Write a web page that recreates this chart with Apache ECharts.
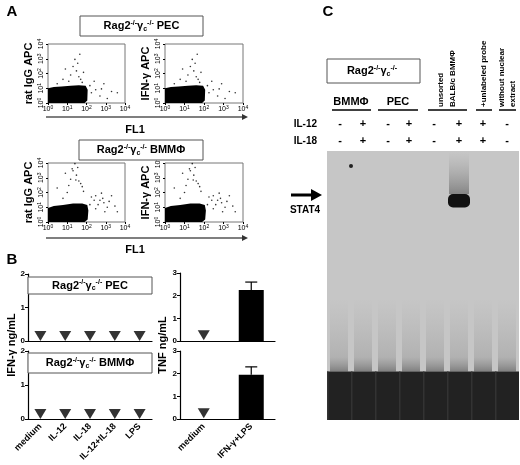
<!DOCTYPE html>
<html>
<head>
<meta charset="utf-8">
<script src="https://cdn.jsdelivr.net/npm/echarts@6/dist/echarts.min.js"></script>
<style>html,body{margin:0;background:#fff}#c{width:520px;height:465px}</style>
</head>
<body>
<div id="c"></div>
<script>
// --- data ---
var logTicks = [1, 10, 100, 1000, 10000];
// dense population outline (log data coords)
var blobPec = [[1,1],[1,10],[2,12],[5,13],[15,15],[40,16],[90,15],[115,8],[110,1.5],[80,1]];
var blobBmm = [[1,1],[1,9],[2,12],[6,14],[20,18],[60,18],[110,14],[125,6],[115,1.5],[80,1]];
var sparsePec = [[20,300],[30,150],[15,80],[40,60],[25,900],[50,40],[12,30],[8,200],[60,25],[35,500],
  [150,15],[300,8],[500,3],[2000,6],[800,20],[1200,2],[4000,5],[250,30],[6,40],[70,120],[3,20],[180,5],[600,9],[45,2000]];
var sparseBmm = [[20,3000],[30,1500],[15,800],[40,600],[25,9000],[50,400],[12,300],[8,2000],[60,250],[35,5000],
  [150,15],[300,8],[500,30],[2000,60],[800,20],[1200,10],[4000,5],[250,30],[6,40],[70,120],[3,200],[180,50],[600,90],
  [900,5],[1500,25],[300,60],[400,15],[3000,12],[700,40],[10,100],[18,4000],[28,700]];
var ifnCats = ['medium', 'IL-12', 'IL-18', 'IL-12+IL-18', 'LPS'];
var ifnPec = [0.15, 0.15, 0.15, 0.15, 0.15];
var ifnBmm = [0.15, 0.15, 0.15, 0.15, 0.15];
var tnfCats = ['medium', 'IFN-γ+LPS'];
var tnfPecND = [0.25, null];
var tnfPec = [null, 2.25];
var tnfPecErr = [null, 2.6];
var tnfBmmND = [0.25, null];
var tnfBmm = [null, 1.95];
var tnfBmmErr = [null, 2.3];
var lanes = [0, 1, 2, 3, 4, 5, 6, 7];
var il12 = ['-', '+', '-', '+', '-', '+', '+', '-'];
var il18 = ['-', '+', '-', '+', '-', '+', '+', '-'];
var stat4 = [0, 0, 0, 0, 0, 1, 0, 0];
var freeProbe = [1, 1, 1, 1, 1, 1, 1, 1];

var F = 'Liberation Sans, Arial, sans-serif';
var chart = echarts.init(document.getElementById('c'));

var supRich = {
  n: {fontSize: 11, fontWeight: 'bold', fontFamily: F, color: '#000'},
  p: {fontSize: 7, fontWeight: 'bold', fontFamily: F, color: '#000', verticalAlign: 'top', padding: [0, 0, 6, 0]},
  b: {fontSize: 7, fontWeight: 'bold', fontFamily: F, color: '#000', verticalAlign: 'bottom', padding: [5, 0, 0, 0]}
};
function ragText(suffix) { return '{n|Rag2}{p|-/-}{n|γ}{b|c}{p|-/-}{n| ' + suffix + '}'; }

var gridA = [[48,44,77,59],[165,44,78,59],[48,163,77,59],[165,163,78,59]];
var gridB = [[28,274,124,67],[28,351,124,68],[180,273,95,68],[180,351,95,68]];
var grids = [];
gridA.forEach(function (g) { grids.push({left: g[0], top: g[1], width: g[2], height: g[3], show: true, borderColor: '#777', borderWidth: 1}); });
gridB.forEach(function (g) { grids.push({left: g[0], top: g[1], width: g[2], height: g[3]}); });
grids.push({left: 327, top: 151, width: 192, height: 269, show: true, backgroundColor: '#c6c6c6', borderWidth: 0});

var logLab = {
  fontSize: 7, fontFamily: F, color: '#000', margin: 2,
  formatter: function (v) { return '{a|10}{s|' + Math.round(Math.log10(v)) + '}'; },
  rich: {a: {fontSize: 7, fontFamily: F}, s: {fontSize: 5, fontFamily: F, verticalAlign: 'top', padding: [0, 0, 4, 0]}}
};
var xAxes = [], yAxes = [], series = [];
var yNames = ['rat IgG APC', 'IFN-γ APC', 'rat IgG APC', 'IFN-γ APC'];
var blobs = [blobPec, blobPec, blobBmm, blobBmm];
var sparses = [sparsePec, sparsePec, sparseBmm, sparseBmm];
for (var i = 0; i < 4; i++) {
  xAxes.push({gridIndex: i, type: 'log', min: 1, max: 10000, logBase: 10, axisLine: {show: false},
    axisTick: {length: 2, lineStyle: {color: '#000'}}, splitLine: {show: false}, axisLabel: logLab});
  yAxes.push({gridIndex: i, type: 'log', min: 1, max: 10000, logBase: 10, axisLine: {show: false},
    axisTick: {length: 2, lineStyle: {color: '#000'}}, splitLine: {show: false},
    axisLabel: Object.assign({}, logLab, {rotate: 90}),
    name: yNames[i], nameLocation: 'middle', nameGap: 14,
    nameTextStyle: {fontSize: 11, fontWeight: 'bold', fontFamily: F, color: '#000'}});
  series.push({type: 'custom', xAxisIndex: i, yAxisIndex: i, data: [0], silent: true,
    renderItem: (function (b) { return function (p, api) {
      return {type: 'polygon', shape: {points: b.map(function (pt) { return api.coord(pt); })}, style: {fill: '#000'}};
    }; })(blobs[i])});
  series.push({type: 'scatter', xAxisIndex: i, yAxisIndex: i, data: sparses[i], symbolSize: 1.6,
    itemStyle: {color: '#000'}, silent: true});
}
// B axes
function catAxis(gi, cats, showLab) {
  return {gridIndex: gi, type: 'category', data: cats, boundaryGap: true,
    axisLine: {lineStyle: {color: '#000', width: 1.2}}, axisTick: {show: false},
    axisLabel: {show: showLab, rotate: 45, interval: 0, fontSize: 9, fontWeight: 'bold', fontFamily: F, color: '#000', margin: 6}};
}
function valAxis(gi, max, name) {
  return {gridIndex: gi, type: 'value', min: 0, max: max, interval: 1, splitLine: {show: false},
    axisLine: {show: true, lineStyle: {color: '#000', width: 1.2}}, axisTick: {show: true, length: 3},
    axisLabel: {fontSize: 8, fontWeight: 'bold', fontFamily: F, color: '#000', margin: 3}};
}
xAxes.push(catAxis(4, ifnCats, false)); yAxes.push(valAxis(4, 2));
xAxes.push(catAxis(5, ifnCats, true)); yAxes.push(valAxis(5, 2));
xAxes.push(catAxis(6, tnfCats, false)); yAxes.push(valAxis(6, 3));
xAxes.push(catAxis(7, tnfCats, true)); yAxes.push(valAxis(7, 3));
function tri(ax, d) {
  return {type: 'scatter', xAxisIndex: ax, yAxisIndex: ax, data: d, symbol: 'triangle', symbolRotate: 180,
    symbolSize: [12, 10], itemStyle: {color: '#000'}, silent: true};
}
series.push(tri(4, ifnPec), tri(5, ifnBmm), tri(6, tnfPecND), tri(7, tnfBmmND));
function bar(ax, d) {
  return {type: 'bar', xAxisIndex: ax, yAxisIndex: ax, data: d, barWidth: 25, itemStyle: {color: '#000'}, silent: true};
}
function err(ax, d, e) {
  return {type: 'custom', xAxisIndex: ax, yAxisIndex: ax, silent: true,
    data: d.map(function (v, k) { return v == null ? null : [k, v, e[k]]; }).filter(Boolean),
    renderItem: function (p, api) {
      var a = api.coord([api.value(0), api.value(1)]), b = api.coord([api.value(0), api.value(2)]);
      return {type: 'group', children: [
        {type: 'line', shape: {x1: a[0], y1: a[1], x2: b[0], y2: b[1]}, style: {stroke: '#000', lineWidth: 1.2}},
        {type: 'line', shape: {x1: b[0] - 6, y1: b[1], x2: b[0] + 6, y2: b[1]}, style: {stroke: '#000', lineWidth: 1.2}}]};
    }};
}
series.push(err(6, tnfPec, tnfPecErr), bar(6, tnfPec), err(7, tnfBmm, tnfBmmErr), bar(7, tnfBmm));
// gel
xAxes.push({gridIndex: 8, type: 'category', data: lanes, show: false});
yAxes.push({gridIndex: 8, type: 'value', min: 0, max: 100, show: false});
series.push({type: 'custom', xAxisIndex: 8, yAxisIndex: 8, silent: true,
  data: lanes.map(function (l) { return [l, freeProbe[l], stat4[l]]; }),
  renderItem: function (p, api) {
    var w = api.size([1, 0])[0];
    var c0 = api.coord([api.value(0), 0]), c18 = api.coord([api.value(0), 18]), c40 = api.coord([api.value(0), 45]);
    var x = c0[0] - w / 2, kids = [];
    kids.push({type: 'rect', shape: {x: x + 3, y: c40[1], width: w - 6, height: c18[1] - c40[1]},
      style: {fill: new echarts.graphic.LinearGradient(0, 0, 0, 1, [{offset: 0, color: 'rgba(150,150,150,0)'}, {offset: 0.8, color: 'rgba(130,130,130,0.3)'}, {offset: 1, color: 'rgba(80,80,80,0.6)'}])}});
    kids.push({type: 'rect', shape: {x: x, y: c18[1], width: w, height: c0[1] - c18[1]}, style: {fill: '#222'}});
    kids.push({type: 'rect', shape: {x: x, y: c18[1], width: 1.5, height: c0[1] - c18[1]}, style: {fill: '#333'}});
    if (api.value(2) > 0) {
      var t = api.coord([api.value(0), 100]), b1 = api.coord([api.value(0), 84]), b2 = api.coord([api.value(0), 79]);
      kids.push({type: 'rect', shape: {x: x + 2, y: t[1], width: w - 4, height: b1[1] - t[1]},
        style: {fill: new echarts.graphic.LinearGradient(0, 0, 0, 1, [{offset: 0, color: 'rgba(200,200,200,0.3)'}, {offset: 1, color: 'rgba(90,90,90,0.6)'}])}});
      kids.push({type: 'rect', shape: {x: x + 1, y: b1[1], width: w - 2, height: b2[1] - b1[1], r: 5}, style: {fill: '#111'}});
    }
    return {type: 'group', children: kids};
  }});

// annotations
function box(x, y, w, h, text) {
  return [{type: 'rect', shape: {x: x, y: y, width: w, height: h}, style: {fill: '#fff', stroke: '#555', lineWidth: 1}, z: 50},
    {type: 'text', x: x + w / 2, y: y + h / 2, z: 51, style: {text: text, rich: supRich, align: 'center', verticalAlign: 'middle'}}];
}
function label(x, y, t, size, opt) {
  return {type: 'text', x: x, y: y, z: 52, style: Object.assign({text: t, fontSize: size || 11, fontWeight: 'bold', fontFamily: F, fill: '#000', align: 'center', verticalAlign: 'middle'}, opt || {})};
}
function arrow(x1, x2, y) {
  return [{type: 'line', shape: {x1: x1, y1: y, x2: x2 - 4, y2: y}, style: {stroke: '#555', lineWidth: 1.5}},
    {type: 'polygon', shape: {points: [[x2, y], [x2 - 6, y - 3], [x2 - 6, y + 3]]}, style: {fill: '#333'}}];
}
var g = [];
g.push(label(12, 12, 'A', 15), label(12, 260, 'B', 15), label(328, 12, 'C', 15));
g = g.concat(box(80, 16, 123, 20, ragText('PEC')), box(79, 140, 124, 20, ragText('BMMΦ')));
g = g.concat(arrow(46, 248, 117), arrow(46, 248, 238));
g.push(label(135, 130, 'FL1', 11), label(135, 250, 'FL1', 11));
g = g.concat(box(28, 277, 124, 17, ragText('PEC')), box(28, 353, 124, 20, ragText('BMMΦ')));
g.push(label(12, 345, 'IFN-γ ng/mL', 11, {}), label(163, 345, 'TNF ng/mL', 11, {}));
g[g.length - 2].rotation = Math.PI / 2; g[g.length - 1].rotation = Math.PI / 2;
g = g.concat(box(327, 59, 93, 24, ragText('')));
g.push(label(351, 102, 'BMMΦ', 11), label(398, 102, 'PEC', 11));
[[332, 371], [378, 418], [428, 467], [476, 492], [499, 516]].forEach(function (u) {
  g.push({type: 'line', shape: {x1: u[0], y1: 110, x2: u[1], y2: 110}, style: {stroke: '#000', lineWidth: 1.5}});
});
g.push(label(441, 107, 'unsorted', 8, {align: 'left'}), label(453, 107, 'BALB/c BMMΦ', 8, {align: 'left'}),
  label(484, 107, '+unlabeled probe', 8, {align: 'left'}), label(502, 107, 'without nuclear', 8, {align: 'left'}),
  label(513, 107, 'extract', 8, {align: 'left'}));
for (var k = g.length - 5; k < g.length; k++) g[k].rotation = Math.PI / 2;
g.push(label(317, 124, 'IL-12', 10, {align: 'right'}), label(317, 141, 'IL-18', 10, {align: 'right'}));
var laneX = [340, 363, 388, 409, 434, 459, 483, 507];
lanes.forEach(function (l) {
  g.push(label(laneX[l], 124, il12[l], 11), label(laneX[l], 141, il18[l], 11));
});
g.push({type: 'line', shape: {x1: 291, y1: 195, x2: 312, y2: 195}, style: {stroke: '#000', lineWidth: 3}});
g.push({type: 'polygon', shape: {points: [[322, 195], [311, 189], [311, 201]]}, style: {fill: '#000'}});
g.push(label(305, 210, 'STAT4', 10));
g.push({type: 'circle', shape: {cx: 351, cy: 166, r: 2}, style: {fill: '#222'}});

chart.setOption({animation: false, grid: grids, xAxis: xAxes, yAxis: yAxes, series: series, graphic: g});
</script>
</body>
</html>
